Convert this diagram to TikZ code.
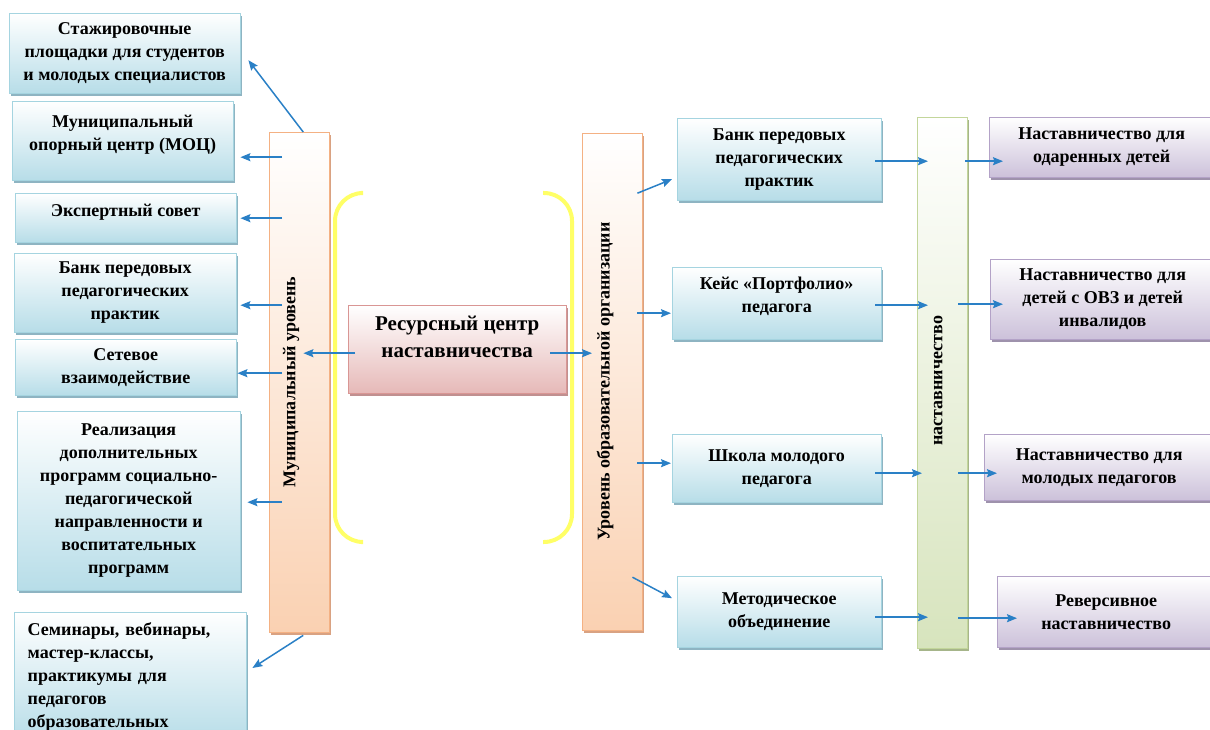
\documentclass[tikz,border=0pt]{standalone}
\usepackage{fontspec}
\setmainfont{Liberation Serif}
\usetikzlibrary{arrows.meta}
\usetikzlibrary{calc}
\usetikzlibrary{positioning}
\usetikzlibrary{shadows}

\definecolor{boxblue}{HTML}{B7DDE8}
\definecolor{edgeblue}{HTML}{A5D4E0}
\definecolor{shadeblue}{HTML}{8EB4C2}
\definecolor{boxpeach}{HTML}{FAD1B2}
\definecolor{edgepeach}{HTML}{F4B183}
\definecolor{shadepeach}{HTML}{D9A282}
\definecolor{boxgreen}{HTML}{D7E4BD}
\definecolor{edgegreen}{HTML}{C3D69B}
\definecolor{shadegreen}{HTML}{A6B58A}
\definecolor{boxviolet}{HTML}{CCC1DA}
\definecolor{edgeviolet}{HTML}{B3A2C7}
\definecolor{shadeviolet}{HTML}{9E92AC}
\definecolor{boxpink}{HTML}{E6B9B8}
\definecolor{edgepink}{HTML}{D99694}
\definecolor{shadepink}{HTML}{C09090}
\definecolor{arrowblue}{HTML}{2A80C6}
\definecolor{bracketyellow}{HTML}{FFFF66}

\tikzset{wh/.style 2 args={minimum width=#1pt,minimum height=#2pt}}

\begin{document}
\begin{tikzpicture}[
		x=1pt,y=-1pt,
		>={Stealth[length=10pt,width=8pt,inset=1.5pt]},
		every node/.style={font=\fontsize{18}{23}\selectfont\bfseries},
		lbox/.style={draw=edgeblue,top color=white,bottom color=boxblue,anchor=north west,align=center,inner sep=0pt,
			drop shadow={shadow xshift=2pt,shadow yshift=-3pt,fill=shadeblue,opacity=1}},
		vbox/.style={draw=edgeviolet,top color=white,bottom color=boxviolet,anchor=north west,align=center,inner sep=0pt,
			drop shadow={shadow xshift=2pt,shadow yshift=-3pt,fill=shadeviolet,opacity=1}},
		bar/.style={draw=edgepeach,top color=white,bottom color=boxpeach,anchor=north west,inner sep=0pt,
			drop shadow={shadow xshift=2pt,shadow yshift=-3pt,fill=shadepeach,opacity=1}},
		gbar/.style={draw=edgegreen,top color=white,bottom color=boxgreen,anchor=north west,inner sep=0pt,
			drop shadow={shadow xshift=2pt,shadow yshift=-3pt,fill=shadegreen,opacity=1}},
		hub/.style={draw=edgepink,top color=white,bottom color=boxpink,anchor=north west,align=center,inner sep=0pt,
			font=\fontsize{21}{27}\selectfont\bfseries,
			drop shadow={shadow xshift=2pt,shadow yshift=-3pt,fill=shadepink,opacity=1}},
		barlabel/.style={rotate=90,inner sep=0pt},
		bracket/.style={draw=bracketyellow,line width=4pt,rounded corners=28pt},
		link/.style={->,draw=arrowblue,line width=1.5pt}
	]
		\useasboundingbox (0,0) rectangle (1210,730);
		\clip (0,0) rectangle (1210,730);

		\node [lbox,wh={231}{80}] (stazh) at (9,13) {Стажировочные\\площадки для студентов\\и молодых специалистов};
		\node [lbox,wh={221}{79},text depth=16pt] (moc) at (12,101) {Муниципальный\\опорный центр (МОЦ)};
		\node [lbox,wh={221}{49},text depth=15pt] (expert) at (15,193) {Экспертный совет};
		\node [lbox,wh={222}{79}] (bank_mun) at (14,253) {Банк передовых\\педагогических\\практик};
		\node [lbox,wh={221}{56}] (network) at (15,339) {Сетевое\\взаимодействие};
		\node [lbox,wh={223}{179}] (dop_prog) at (17,411) {Реализация\\дополнительных\\программ социально-\\педагогической\\направленности и\\воспитательных\\программ};
		\node [lbox,wh={232}{130},align=left,text width=205pt,inner xsep=13.5pt] (seminars) at (14,612) {Семинары, вебинары,\\мастер-классы,\\практикумы для\\педагогов\\образовательных};

		\node [bar,wh={60}{500}] (muni_level) at (269,132) {};
		\node [barlabel] (muni_label) at ($(muni_level.center)+(-8,0)$) {Муниципальный уровень};

		\draw [bracket] (361,193) -- (335,193) -- (335,542) -- (361,542);
		\draw [bracket] (543,193) -- (572,193) -- (572,542) -- (543,542);
		\node [hub,wh={218}{88},text depth=25pt] (res_center) at (348,305) {Ресурсный центр\\наставничества};

		\node [bar,wh={60}{497}] (org_level) at (582,133) {};
		\node [barlabel] (org_label) at ($(org_level.center)+(-7,0)$) {Уровень образовательной организации};

		\node [lbox,wh={204}{82}] (bank_org) at (677,118) {Банк передовых\\педагогических\\практик};
		\node [lbox,wh={209}{72},text depth=16pt] (portfolio) at (672,267) {Кейс «Портфолио»\\педагога};
		\node [lbox,wh={209}{68}] (school) at (672,434) {Школа молодого\\педагога};
		\node [lbox,wh={204}{71}] (method) at (677,576) {Методическое\\объединение};

		\node [gbar,wh={50}{531}] (mentoring) at (917,117) {};
		\node [barlabel] (mentoring_label) at ($(mentoring.center)+(-4,-2)$) {наставничество};

		\node [vbox,wh={225}{60}] (gifted) at (989,117) {Наставничество для\\одаренных детей};
		\node [vbox,wh={225}{80}] (ovz) at (990,259) {Наставничество для\\детей с ОВЗ и детей\\инвалидов};
		\node [vbox,wh={230}{66}] (young) at (984,434) {Наставничество для\\молодых педагогов};
		\node [vbox,wh={218}{71}] (reverse) at (997,576) {Реверсивное\\наставничество};

		\draw [link] ($(muni_level.north)+(4,0)$) -- ($(stazh.east)+(8,7)$);
		\draw [link] ($(muni_level.west |- moc.east)+(13,16.5)$) -- ($(moc.east)+(7,16.5)$);
		\draw [link] ($(muni_level.west |- expert.east)+(13,0.5)$) -- ($(expert.east)+(4,0.5)$);
		\draw [link] ($(muni_level.west |- bank_mun.east)+(13,12.5)$) -- ($(bank_mun.east)+(4,12.5)$);
		\draw [link] ($(muni_level.west |- network.east)+(13,6)$) -- ($(network.east)+(1,6)$);
		\draw [link] ($(muni_level.west |- dop_prog.east)+(13,1.5)$) -- ($(dop_prog.east)+(7,1.5)$);
		\draw [link] ($(muni_level.south)+(4,3)$) -- ($(seminars.north east)+(6,56)$);

		\draw [link] ($(res_center.west)+(7,4)$) -- ($(res_center.west -| muni_level.east)+(-26,4)$);
		\draw [link] ($(res_center.east)+(-16,4)$) -- ($(res_center.east -| org_level.west)+(10,4)$);

		\draw [link] ($(org_level.east |- bank_org.west)+(-5,34)$) -- ($(bank_org.west)+(-5,20)$);
		\draw [link] ($(org_level.east |- portfolio.west)+(-5,10)$) -- ($(portfolio.west)+(-1,10)$);
		\draw [link] ($(org_level.east |- school.west)+(-5,-5)$) -- ($(school.west)+(-1,-5)$);
		\draw [link] ($(org_level.east |- method.west)+(-10,-34.5)$) -- ($(method.west)+(-5,-13.5)$);

		\draw [link] ($(bank_org.east)+(-6,2)$) -- ($(bank_org.east -| mentoring.west)+(11,2)$);
		\draw [link] ($(portfolio.east)+(-6,2)$) -- ($(portfolio.east -| mentoring.west)+(11,2)$);
		\draw [link] ($(school.east)+(-6,5)$) -- ($(school.east -| mentoring.west)+(5,5)$);
		\draw [link] ($(method.east)+(-6,5.5)$) -- ($(method.east -| mentoring.west)+(11,5.5)$);

		\draw [link] ($(mentoring.east |- gifted.west)+(-2,14)$) -- ($(gifted.west)+(14,14)$);
		\draw [link] ($(mentoring.east |- ovz.west)+(-9,5)$) -- ($(ovz.west)+(13,5)$);
		\draw [link] ($(mentoring.east |- young.west)+(-9,6)$) -- ($(young.west)+(13,6)$);
		\draw [link] ($(mentoring.east |- reverse.west)+(-9,6.5)$) -- ($(reverse.west)+(20,6.5)$);
	\end{tikzpicture}
\end{document}
